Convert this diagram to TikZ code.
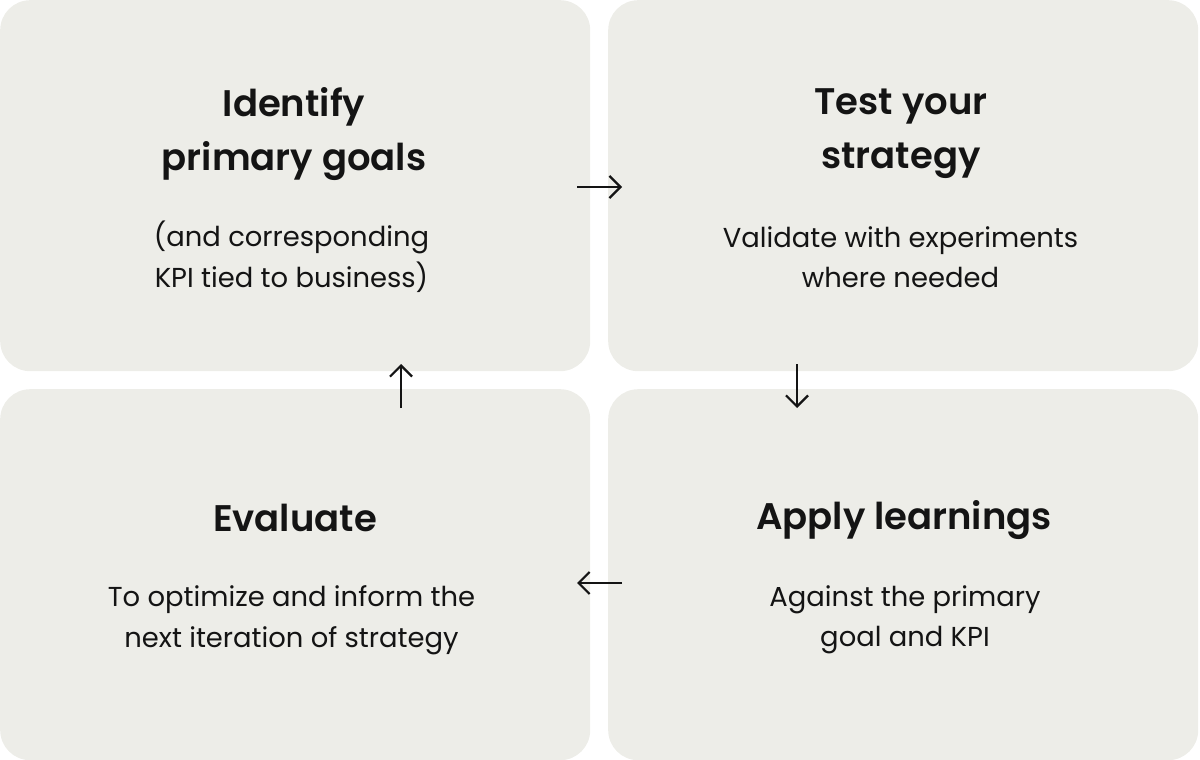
\documentclass[tikz,border=0pt]{standalone}
\usepackage{fontspec}
\setmainfont{Poppins}
\newfontfamily\titlefont{Poppins SemiBold}
\usetikzlibrary{arrows.meta}
\definecolor{boxfill}{RGB}{237,237,232}
\definecolor{ink}{RGB}{20,20,20}
\tikzset{
  panel/.style={draw=none, fill=boxfill, rounded corners=30pt, minimum width=590pt, minimum height=371pt, inner sep=0pt, anchor=north west},
  titletext/.style={align=center, text=ink, font=\titlefont\fontsize{37}{54}\selectfont, inner sep=0pt},
  bodytext/.style={align=center, text=ink, font=\fontsize{27.4}{40.5}\selectfont, inner sep=0pt},
  flow/.style={draw=ink, line width=2.2pt, -{Straight Barb[length=11pt, width=22pt, line width=2.2pt]}}
}
\begin{document}
\begin{tikzpicture}[x=1pt, y=-1pt]
\useasboundingbox (0,0) rectangle (1200,760);
\node[panel] (tl) at (0,0) {};
\node[panel] (tr) at (608,0) {};
\node[panel] (bl) at (0,389) {};
\node[panel] (br) at (608,389) {};

\node[titletext] (t1) at (294,134) {Identify\\primary goals};
\node[bodytext] (b1) at (291.5,257) {(and corresponding\\KPI tied to business)};

\node[titletext] (t2) at (901,134) {Test your\\strategy};
\node[bodytext] (b2) at (900.5,257) {Validate with experiments\\where needed};

\node[titletext] (t3) at (295,518) {Evaluate};
\node[bodytext] (b3) at (291.5,620) {To optimize and inform the\\next iteration of strategy};

\node[titletext] (t4) at (904,520) {Apply learnings};
\node[bodytext] (b4) at (905,620) {Against the primary\\goal and KPI};

\coordinate (a1s) at (577,187);
\coordinate (a1e) at (622,187);
\coordinate (a2s) at (797,364);
\coordinate (a2e) at (797,408);
\coordinate (a3s) at (622,583);
\coordinate (a3e) at (577,583);
\coordinate (a4s) at (401,408);
\coordinate (a4e) at (401,364);
\draw[flow] (a1s) -- (a1e);
\draw[flow] (a2s) -- (a2e);
\draw[flow] (a3s) -- (a3e);
\draw[flow] (a4s) -- (a4e);
\end{tikzpicture}
\end{document}
